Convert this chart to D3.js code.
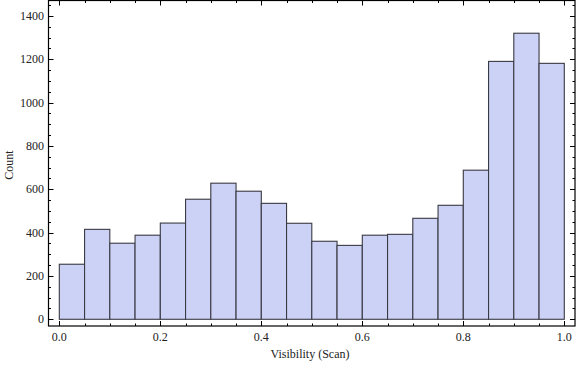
<!DOCTYPE html>
<html>
<head>
<meta charset="utf-8">
<script src="https://cdn.jsdelivr.net/npm/d3@7"></script>
<style>
  body { margin: 0; background: #fff; }
  text { font-family: "Liberation Serif", "DejaVu Serif", serif; fill: #222; }
</style>
</head>
<body>
<svg id="chart" width="576" height="366"></svg>
<script>
// bin starts (width 0.05) and counts
var binStarts = [0.00, 0.05, 0.10, 0.15, 0.20, 0.25, 0.30, 0.35, 0.40, 0.45,
                 0.50, 0.55, 0.60, 0.65, 0.70, 0.75, 0.80, 0.85, 0.90, 0.95];
var counts = [254, 415, 351, 388, 444, 554, 628, 591, 535, 443,
              360, 341, 388, 392, 466, 526, 688, 1190, 1320, 1181];
var binWidth = 0.05;
var xTicks = [0, 0.2, 0.4, 0.6, 0.8, 1.0];
var yTicks = [0, 200, 400, 600, 800, 1000, 1200, 1400];

var svg = d3.select("#chart");

// frame edges
var fLeft = 48.5, fRight = 575, fTop = 0.5, fBottom = 326;

var x = d3.scaleLinear().domain([-0.0214, 1.0212]).range([fLeft, fRight]);
var y = d3.scaleLinear().domain([-31, 1471]).range([fBottom, fTop]);

// bars
svg.append("g").selectAll("rect").data(counts).enter()
  .append("rect")
  .attr("x", function(d, i) { return x(binStarts[i]); })
  .attr("width", function(d, i) { return x(binStarts[i] + binWidth) - x(binStarts[i]); })
  .attr("y", function(d) { return y(d); })
  .attr("height", function(d) { return y(0) - y(d); })
  .attr("fill", "#ccd2f6")
  .attr("stroke", "#3a3a44")
  .attr("stroke-width", 1.1);

// minor tick values
var xMinor = d3.range(0, 1.0001, 0.05).map(function(v) { return +v.toFixed(2); });
var yMinor = d3.range(0, 1451, 50);

var g = svg.append("g").attr("stroke", "#000").attr("stroke-width", 1);

function tickLines(vals, major, isX) {
  vals.forEach(function(v) {
    var len = major ? 5 : 2.5;
    if (isX) {
      var px = Math.round(x(v)) + 0.5;
      g.append("line").attr("x1", px).attr("x2", px).attr("y1", fBottom).attr("y2", fBottom - len);
      g.append("line").attr("x1", px).attr("x2", px).attr("y1", fTop).attr("y2", fTop + len);
    } else {
      var py = Math.round(y(v)) + 0.5;
      g.append("line").attr("y1", py).attr("y2", py).attr("x1", fLeft).attr("x2", fLeft + len);
      g.append("line").attr("y1", py).attr("y2", py).attr("x1", fRight).attr("x2", fRight - len);
    }
  });
}
tickLines(xMinor.filter(function(v) { return xTicks.indexOf(v) < 0; }), false, true);
tickLines(xTicks, true, true);
tickLines(yMinor.filter(function(v) { return v % 200 != 0; }), false, false);
tickLines(yTicks, true, false);

// frame box
svg.append("rect")
  .attr("x", fLeft).attr("y", fTop)
  .attr("width", fRight - fLeft).attr("height", fBottom - fTop)
  .attr("fill", "none").attr("stroke", "#000").attr("stroke-width", 1.2);

// tick labels
svg.append("g").selectAll("text").data(xTicks).enter()
  .append("text")
  .attr("x", function(d) { return x(d); })
  .attr("y", 341)
  .attr("text-anchor", "middle")
  .attr("font-size", 12)
  .text(function(d) { return d3.format(".1f")(d); });

svg.append("g").selectAll("text").data(yTicks).enter()
  .append("text")
  .attr("x", 44)
  .attr("y", function(d) { return y(d) + 4; })
  .attr("text-anchor", "end")
  .attr("font-size", 12)
  .text(function(d) { return d; });

// axis titles
svg.append("text")
  .attr("x", 310).attr("y", 358)
  .attr("text-anchor", "middle")
  .attr("font-size", 12)
  .text("Visibility (Scan)");

svg.append("text")
  .attr("transform", "translate(13,165) rotate(-90)")
  .attr("text-anchor", "middle")
  .attr("font-size", 12)
  .text("Count");
</script>
</body>
</html>
